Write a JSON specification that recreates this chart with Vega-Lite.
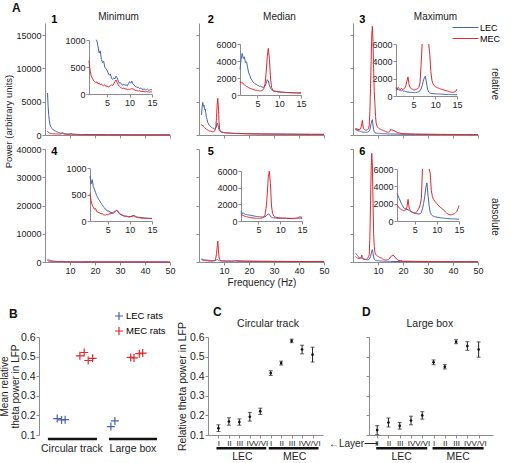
{
"$schema": "https://vega.github.io/schema/vega-lite/v6.json",
"padding": {"left": -1, "top": 2, "right": 0, "bottom": 0},
"config": {
  "font": "Liberation Sans",
  "view": {"stroke": null},
  "axis": {"grid": false, "domainColor": "#8c8c8c", "tickColor": "#8c8c8c", "labelColor": "#222", "labelFontSize": 9, "tickSize": 3, "labelPadding": 1, "labelFlush": false, "labelOverlap": false, "tickCount": 12, "titleFontWeight": "normal", "titleColor": "#222", "titleFontSize": 10, "titlePadding": 2},
  "title": {"fontSize": 10, "fontWeight": "normal", "color": "#222", "offset": 0},
  "line": {"strokeWidth": 1}
},
"datasets": {
"S": [
{"f":1,"L1":6300,"M1":620,"L2":3000,"M2":1600,"L3":850,"M3":1000,"L4":850,"M4":520,"L5":1200,"M5":900,"L6":3200,"M6":1900},
{"f":1.25,"L1":4300,"M1":430,"L2":4200,"M2":1400,"L3":700,"M3":800,"L4":700,"M4":380,"L5":900,"M5":700,"L6":2900,"M6":1700},
{"f":1.5,"L1":2900,"M1":330,"L2":4900,"M2":1500,"L3":780,"M3":1000,"L4":780,"M4":300,"L5":1000,"M5":650,"L6":2600,"M6":1500},
{"f":1.75,"L1":2100,"M1":290,"L2":4300,"M2":1300,"L3":650,"M3":850,"L4":650,"M4":260,"L5":850,"M5":600,"L6":2300,"M6":1400},
{"f":2,"L1":1600,"M1":250,"L2":4500,"M2":1200,"L3":680,"M3":700,"L4":600,"M4":220,"L5":800,"M5":550,"L6":2000,"M6":1300},
{"f":2.25,"L1":1300,"M1":230,"L2":3800,"M2":1100,"L3":600,"M3":900,"L4":540,"M4":240,"L5":780,"M5":520,"L6":1800,"M6":1250},
{"f":2.5,"L1":1150,"M1":210,"L2":3900,"M2":1000,"L3":620,"M3":750,"L4":480,"M4":180,"L5":750,"M5":480,"L6":1500,"M6":1200},
{"f":2.75,"L1":990,"M1":225,"L2":3200,"M2":950,"L3":560,"M3":800,"L4":440,"M4":170,"L5":720,"M5":450,"L6":1450,"M6":1250},
{"f":3,"L1":880,"M1":190,"L2":2600,"M2":850,"L3":550,"M3":900,"L4":400,"M4":155,"L5":700,"M5":420,"L6":1400,"M6":1300},
{"f":3.25,"L1":760,"M1":200,"L2":2300,"M2":800,"L3":500,"M3":1200,"L4":370,"M4":150,"L5":680,"M5":400,"L6":1350,"M6":1600},
{"f":3.5,"L1":800,"M1":170,"L2":1900,"M2":750,"L3":480,"M3":1700,"L4":330,"M4":135,"L5":650,"M5":380,"L6":1300,"M6":2500},
{"f":3.75,"L1":640,"M1":185,"L2":1750,"M2":700,"L3":460,"M3":2200,"L4":310,"M4":140,"L5":630,"M5":365,"L6":1200,"M6":1500},
{"f":4,"L1":580,"M1":160,"L2":1500,"M2":650,"L3":450,"M3":1300,"L4":270,"M4":120,"L5":600,"M5":350,"L6":1100,"M6":1200},
{"f":4.25,"L1":610,"M1":150,"L2":1450,"M2":600,"L3":420,"M3":950,"L4":250,"M4":115,"L5":580,"M5":340,"L6":1050,"M6":1100},
{"f":4.5,"L1":500,"M1":170,"L2":1300,"M2":580,"L3":430,"M3":850,"L4":220,"M4":110,"L5":550,"M5":330,"L6":1000,"M6":1000},
{"f":4.75,"L1":470,"M1":140,"L2":1250,"M2":550,"L3":400,"M3":780,"L4":210,"M4":125,"L5":540,"M5":325,"L6":950,"M6":950},
{"f":5,"L1":440,"M1":150,"L2":1150,"M2":520,"L3":400,"M3":720,"L4":180,"M4":120,"L5":520,"M5":320,"L6":900,"M6":900},
{"f":5.25,"L1":390,"M1":130,"L2":1100,"M2":500,"L3":380,"M3":700,"L4":195,"M4":130,"L5":510,"M5":325,"L6":870,"M6":950},
{"f":5.5,"L1":350,"M1":140,"L2":1000,"M2":480,"L3":420,"M3":760,"L4":160,"M4":135,"L5":500,"M5":330,"L6":850,"M6":1100},
{"f":5.75,"L1":370,"M1":155,"L2":1020,"M2":500,"L3":410,"M3":800,"L4":170,"M4":140,"L5":490,"M5":360,"L6":820,"M6":1300},
{"f":6,"L1":290,"M1":170,"L2":950,"M2":520,"L3":450,"M3":850,"L4":150,"M4":150,"L5":480,"M5":400,"L6":800,"M6":1500},
{"f":6.25,"L1":270,"M1":160,"L2":900,"M2":600,"L3":500,"M3":1000,"L4":140,"M4":165,"L5":490,"M5":500,"L6":850,"M6":1900},
{"f":6.5,"L1":300,"M1":190,"L2":920,"M2":800,"L3":600,"M3":1500,"L4":155,"M4":180,"L5":520,"M5":700,"L6":1000,"M6":2600},
{"f":6.75,"L1":280,"M1":230,"L2":1050,"M2":1300,"L3":800,"M3":3500,"L4":175,"M4":190,"L5":600,"M5":1500,"L6":1400,"M6":9000},
{"f":7,"L1":330,"M1":260,"L2":1350,"M2":2600,"L3":1200,"M3":7000,"L4":200,"M4":200,"L5":700,"M5":3000,"L6":2000,"M6":20000},
{"f":7.25,"L1":300,"M1":215,"L2":1800,"M2":4500,"L3":1700,"M3":11000,"L4":190,"M4":185,"L5":850,"M5":5200,"L6":2800,"M6":32000},
{"f":7.5,"L1":240,"M1":170,"L2":1650,"M2":5500,"L3":2100,"M3":15000,"L4":150,"M4":160,"L5":800,"M5":7400,"L6":3800,"M6":38500},
{"f":7.75,"L1":200,"M1":140,"L2":1150,"M2":4200,"L3":2300,"M3":16300,"L4":130,"M4":140,"L5":600,"M5":4500,"L6":4400,"M6":34000},
{"f":8,"L1":210,"M1":120,"L2":800,"M2":2000,"L3":1500,"M3":14000,"L4":120,"M4":120,"L5":450,"M5":1800,"L6":3000,"M6":22000},
{"f":8.25,"L1":175,"M1":110,"L2":620,"M2":900,"L3":800,"M3":10000,"L4":115,"M4":110,"L5":400,"M5":900,"L6":1800,"M6":10000},
{"f":8.5,"L1":165,"M1":100,"L2":520,"M2":600,"L3":450,"M3":6500,"L4":100,"M4":100,"L5":380,"M5":600,"L6":1000,"M6":5500},
{"f":8.75,"L1":180,"M1":110,"L2":470,"M2":500,"L3":350,"M3":4800,"L4":95,"M4":95,"L5":360,"M5":500,"L6":750,"M6":3500},
{"f":9,"L1":160,"M1":90,"L2":420,"M2":450,"L3":300,"M3":2800,"L4":90,"M4":90,"L5":350,"M5":450,"L6":600,"M6":2800},
{"f":9.25,"L1":170,"M1":95,"L2":440,"M2":430,"L3":290,"M3":1800,"L4":95,"M4":85,"L5":345,"M5":420,"L6":550,"M6":2500},
{"f":9.5,"L1":150,"M1":80,"L2":390,"M2":400,"L3":270,"M3":1400,"L4":85,"M4":85,"L5":340,"M5":400,"L6":500,"M6":2300},
{"f":9.75,"L1":190,"M1":85,"L2":360,"M2":380,"L3":260,"M3":1200,"L4":80,"M4":80,"L5":335,"M5":390,"L6":470,"M6":2150},
{"f":10,"L1":230,"M1":80,"L2":370,"M2":370,"L3":250,"M3":1100,"L4":80,"M4":80,"L5":330,"M5":380,"L6":450,"M6":2000},
{"f":10.25,"L1":200,"M1":90,"L2":340,"M2":350,"L3":240,"M3":1000,"L4":85,"M4":85,"L5":330,"M5":370,"L6":420,"M6":1850},
{"f":10.5,"L1":240,"M1":100,"L2":330,"M2":340,"L3":240,"M3":950,"L4":95,"M4":90,"L5":325,"M5":360,"L6":400,"M6":1700},
{"f":10.75,"L1":190,"M1":95,"L2":310,"M2":330,"L3":230,"M3":900,"L4":100,"M4":95,"L5":320,"M5":355,"L6":380,"M6":1600},
{"f":11,"L1":170,"M1":85,"L2":320,"M2":320,"L3":220,"M3":850,"L4":105,"M4":90,"L5":320,"M5":350,"L6":350,"M6":1500},
{"f":11.25,"L1":140,"M1":70,"L2":300,"M2":310,"L3":220,"M3":800,"L4":90,"M4":80,"L5":315,"M5":345,"L6":340,"M6":1400},
{"f":11.5,"L1":130,"M1":65,"L2":290,"M2":300,"L3":210,"M3":760,"L4":80,"M4":70,"L5":310,"M5":340,"L6":330,"M6":1300},
{"f":11.75,"L1":120,"M1":60,"L2":300,"M2":290,"L3":200,"M3":720,"L4":75,"M4":65,"L5":305,"M5":335,"L6":320,"M6":1150},
{"f":12,"L1":125,"M1":55,"L2":280,"M2":280,"L3":200,"M3":700,"L4":70,"M4":60,"L5":300,"M5":330,"L6":300,"M6":1000},
{"f":12.25,"L1":100,"M1":60,"L2":290,"M2":280,"L3":190,"M3":650,"L4":70,"M4":60,"L5":295,"M5":328,"L6":290,"M6":900},
{"f":12.5,"L1":110,"M1":50,"L2":270,"M2":270,"L3":190,"M3":620,"L4":65,"M4":55,"L5":290,"M5":325,"L6":280,"M6":800},
{"f":12.75,"L1":90,"M1":45,"L2":280,"M2":260,"L3":180,"M3":580,"L4":60,"M4":55,"L5":285,"M5":322,"L6":270,"M6":750},
{"f":13,"L1":85,"M1":50,"L2":260,"M2":260,"L3":180,"M3":540,"L4":60,"M4":55,"L5":280,"M5":320,"L6":250,"M6":700},
{"f":13.25,"L1":95,"M1":45,"L2":270,"M2":250,"L3":170,"M3":500,"L4":58,"M4":50,"L5":285,"M5":330,"L6":250,"M6":720},
{"f":13.5,"L1":75,"M1":40,"L2":260,"M2":250,"L3":170,"M3":460,"L4":55,"M4":50,"L5":290,"M5":340,"L6":245,"M6":750},
{"f":13.75,"L1":80,"M1":45,"L2":250,"M2":240,"L3":160,"M3":430,"L4":55,"M4":50,"L5":300,"M5":360,"L6":240,"M6":800},
{"f":14,"L1":90,"M1":40,"L2":260,"M2":240,"L3":160,"M3":420,"L4":55,"M4":48,"L5":310,"M5":400,"L6":240,"M6":850},
{"f":14.25,"L1":70,"M1":40,"L2":250,"M2":230,"L3":160,"M3":440,"L4":52,"M4":47,"L5":330,"M5":450,"L6":230,"M6":950},
{"f":14.5,"L1":75,"M1":35,"L2":240,"M2":230,"L3":150,"M3":480,"L4":50,"M4":46,"L5":350,"M5":500,"L6":220,"M6":1100},
{"f":14.75,"L1":85,"M1":40,"L2":250,"M2":230,"L3":150,"M3":560,"L4":50,"M4":45,"L5":330,"M5":480,"L6":210,"M6":1400},
{"f":15,"L1":75,"M1":40,"L2":240,"M2":220,"L3":150,"M3":800,"L4":50,"M4":45,"L5":300,"M5":450,"L6":200,"M6":1800},
{"f":16,"L1":70,"M1":38,"L2":230,"M2":210,"L3":150,"M3":720,"L4":48,"M4":42,"L5":280,"M5":380,"L6":190,"M6":2500},
{"f":18,"L1":65,"M1":35,"L2":210,"M2":190,"L3":130,"M3":320,"L4":42,"M4":38,"L5":260,"M5":320,"L6":170,"M6":600},
{"f":20,"L1":50,"M1":30,"L2":190,"M2":170,"L3":110,"M3":200,"L4":38,"M4":35,"L5":240,"M5":280,"L6":150,"M6":300},
{"f":25,"L1":42,"M1":22,"L2":165,"M2":145,"L3":95,"M3":140,"L4":32,"M4":30,"L5":210,"M5":250,"L6":130,"M6":210},
{"f":30,"L1":35,"M1":20,"L2":150,"M2":130,"L3":85,"M3":110,"L4":28,"M4":26,"L5":190,"M5":220,"L6":115,"M6":160},
{"f":35,"L1":30,"M1":17,"L2":135,"M2":115,"L3":75,"M3":95,"L4":25,"M4":24,"L5":170,"M5":200,"L6":100,"M6":140},
{"f":40,"L1":25,"M1":15,"L2":120,"M2":100,"L3":70,"M3":80,"L4":22,"M4":22,"L5":160,"M5":180,"L6":90,"M6":120},
{"f":45,"L1":22,"M1":13,"L2":105,"M2":92,"L3":65,"M3":68,"L4":20,"M4":20,"L5":150,"M5":170,"L6":80,"M6":105},
{"f":50,"L1":20,"M1":12,"L2":100,"M2":90,"L3":60,"M3":60,"L4":20,"M4":20,"L5":140,"M5":160,"L6":75,"M6":100}
],
"B": [
{"env":"Circular track","rats":"LEC rats","x":1.79,"v":0.184},
{"env":"Circular track","rats":"LEC rats","x":2.21,"v":0.177},
{"env":"Circular track","rats":"LEC rats","x":2.56,"v":0.178},
{"env":"Circular track","rats":"MEC rats","x":4.0,"v":0.504},
{"env":"Circular track","rats":"MEC rats","x":4.42,"v":0.521},
{"env":"Circular track","rats":"MEC rats","x":4.81,"v":0.48},
{"env":"Circular track","rats":"MEC rats","x":5.24,"v":0.491},
{"env":"Large box","rats":"LEC rats","x":7.02,"v":0.143},
{"env":"Large box","rats":"LEC rats","x":7.41,"v":0.172},
{"env":"Large box","rats":"MEC rats","x":8.95,"v":0.496},
{"env":"Large box","rats":"MEC rats","x":9.27,"v":0.493},
{"env":"Large box","rats":"MEC rats","x":9.79,"v":0.515},
{"env":"Large box","rats":"MEC rats","x":10.12,"v":0.518}
],
"C": [
{"cat":"LEC I","mean":0.135,"lo":0.118,"hi":0.152},
{"cat":"LEC II","mean":0.169,"lo":0.150,"hi":0.188},
{"cat":"LEC III","mean":0.166,"lo":0.150,"hi":0.182},
{"cat":"LEC IV","mean":0.193,"lo":0.171,"hi":0.215},
{"cat":"LEC V/VI","mean":0.221,"lo":0.205,"hi":0.237},
{"cat":"MEC I","mean":0.416,"lo":0.404,"hi":0.428},
{"cat":"MEC II","mean":0.467,"lo":0.457,"hi":0.477},
{"cat":"MEC III","mean":0.580,"lo":0.571,"hi":0.589},
{"cat":"MEC IV","mean":0.536,"lo":0.514,"hi":0.558},
{"cat":"MEC V/VI","mean":0.510,"lo":0.472,"hi":0.548}
],
"D": [
{"cat":"LEC I","mean":0.125,"lo":0.102,"hi":0.148},
{"cat":"LEC II","mean":0.164,"lo":0.141,"hi":0.187},
{"cat":"LEC III","mean":0.147,"lo":0.130,"hi":0.164},
{"cat":"LEC IV","mean":0.174,"lo":0.152,"hi":0.196},
{"cat":"LEC V/VI","mean":0.200,"lo":0.181,"hi":0.219},
{"cat":"MEC I","mean":0.471,"lo":0.459,"hi":0.483},
{"cat":"MEC II","mean":0.448,"lo":0.437,"hi":0.459},
{"cat":"MEC III","mean":0.576,"lo":0.566,"hi":0.586},
{"cat":"MEC IV","mean":0.554,"lo":0.532,"hi":0.576},
{"cat":"MEC V/VI","mean":0.536,"lo":0.497,"hi":0.575}
]
},
"title": {"text": "A", "anchor": "start", "frame": "group", "dx": -33, "dy": 7, "fontSize": 12, "fontWeight": "bold", "color": "#111"},
"columns": 3,
"bounds": "flush",
"spacing": {"row": 75, "column": 29},
"resolve": {"scale": {"color": "independent"}, "legend": {"color": "independent"}},
"concat": [
{"width": 125, "height": 239, "title": {"text": "Minimum", "dx": 11, "dy": 12},
 "layer": [
  {"layer": [
   {"data": {"name": "S"}, "mark": {"type": "line"}, "encoding": {
     "x": {"field": "f", "type": "quantitative", "scale": {"domain": [0, 50]}, "axis": {"orient": "bottom", "values": [10,20,30,40,50], "tickCount": 12, "labels": false, "title": null, "offset": -127}},
     "y": {"field": "L1", "type": "quantitative", "scale": {"domain": [0, 16800], "nice": false, "range": [112, 0]}, "axis": {"orient": "left", "format": "d", "values": [0,5000,10000,15000], "tickCount": 12, "title": "Power (arbitrary units)", "titleY": 98, "titleFontSize": 9.5}},
     "color": {"datum": "LEC", "type": "nominal", "scale": {"domain": ["LEC","MEC"], "range": ["#4862ae","#e2292e"]}, "legend": {"orient": "none", "legendX": 416, "legendY": 0, "title": null, "labelFontSize": 9, "symbolType": "M-3.25,0L3.25,0", "symbolSize": 64, "symbolStrokeWidth": 1.2, "rowPadding": 1, "labelOffset": 10}}}},
   {"data": {"name": "S"}, "mark": {"type": "line"}, "encoding": {
     "x": {"field": "f", "type": "quantitative", "scale": {"domain": [0, 50]}, "axis": {"orient": "bottom", "values": [10,20,30,40,50], "tickCount": 12, "labels": false, "title": null, "offset": -127}},
     "y": {"field": "M1", "type": "quantitative", "scale": {"domain": [0, 16800], "nice": false, "range": [112, 0]}, "axis": {"orient": "left", "format": "d", "values": [0,5000,10000,15000], "tickCount": 12, "title": "Power (arbitrary units)", "titleY": 98, "titleFontSize": 9.5}},
     "color": {"datum": "MEC", "type": "nominal", "scale": {"domain": ["LEC","MEC"], "range": ["#4862ae","#e2292e"]}, "legend": {"orient": "none", "legendX": 416, "legendY": 0, "title": null, "labelFontSize": 9, "symbolType": "M-3.25,0L3.25,0", "symbolSize": 64, "symbolStrokeWidth": 1.2, "rowPadding": 1, "labelOffset": 10}}}},
   {"data": {"values": [{}]}, "mark": {"type": "text", "fontWeight": "bold", "fontSize": 11, "align": "left", "baseline": "middle"}, "encoding": {"x": {"datum": 2.5, "type": "quantitative"}, "y": {"datum": 17200, "type": "quantitative"}, "text": {"value": "1"}}}
  ]},
  {"data": {"name": "S"}, "transform": [{"filter": "datum.f <= 15"}], "layer": [
   {"transform": [{"filter": "datum.f >= 2.5"}], "mark": {"type": "line", "color": "#4862ae"}, "encoding": {
     "x": {"field": "f", "type": "quantitative", "scale": {"domain": [1, 15], "range": [44, 107]}, "axis": {"orient": "bottom", "offset": -168, "values": [5,10,15], "tickCount": 12, "title": null}},
     "y": {"field": "L1", "type": "quantitative", "scale": {"domain": [0, 1000], "range": [71, 17], "nice": false, "clamp": true}, "axis": {"orient": "left", "format": "d", "offset": -44, "values": [0,500,1000], "tickCount": 12, "title": null}}}},
   {"mark": {"type": "line", "color": "#e2292e"}, "encoding": {
     "x": {"field": "f", "type": "quantitative", "scale": {"domain": [1, 15], "range": [44, 107]}, "axis": {"orient": "bottom", "offset": -168, "values": [5,10,15], "tickCount": 12, "title": null}},
     "y": {"field": "M1", "type": "quantitative", "scale": {"domain": [0, 1000], "range": [71, 17], "nice": false, "clamp": true}, "axis": {"orient": "left", "format": "d", "offset": -44, "values": [0,500,1000], "tickCount": 12, "title": null}}}}
  ]},
  {"layer": [
   {"data": {"name": "S"}, "mark": {"type": "line", "color": "#4862ae"}, "encoding": {
     "x": {"field": "f", "type": "quantitative", "scale": {"domain": [0, 50]}, "axis": {"orient": "bottom", "values": [10,20,30,40,50], "tickCount": 12, "title": null}},
     "y": {"field": "L4", "type": "quantitative", "scale": {"domain": [0, 40000], "nice": false, "range": [239, 126]}, "axis": {"orient": "left", "format": "d", "values": [0,10000,20000,30000,40000], "tickCount": 12, "title": null}}}},
   {"data": {"name": "S"}, "mark": {"type": "line", "color": "#e2292e"}, "encoding": {
     "x": {"field": "f", "type": "quantitative", "scale": {"domain": [0, 50]}, "axis": {"orient": "bottom", "values": [10,20,30,40,50], "tickCount": 12, "title": null}},
     "y": {"field": "M4", "type": "quantitative", "scale": {"domain": [0, 40000], "nice": false, "range": [239, 126]}, "axis": {"orient": "left", "format": "d", "values": [0,10000,20000,30000,40000], "tickCount": 12, "title": null}}}},
   {"data": {"values": [{}]}, "mark": {"type": "text", "fontWeight": "bold", "fontSize": 11, "align": "left", "baseline": "middle"}, "encoding": {"x": {"datum": 2.5, "type": "quantitative"}, "y": {"datum": 39100, "type": "quantitative"}, "text": {"value": "4"}}}
  ]},
  {"data": {"name": "S"}, "transform": [{"filter": "datum.f <= 15"}], "layer": [
   {"mark": {"type": "line", "color": "#4862ae"}, "encoding": {
     "x": {"field": "f", "type": "quantitative", "scale": {"domain": [1, 15], "range": [45, 107]}, "axis": {"orient": "bottom", "offset": -41, "values": [5,10,15], "tickCount": 12, "title": null}},
     "y": {"field": "L4", "type": "quantitative", "scale": {"domain": [0, 1000], "range": [198, 145], "nice": false, "clamp": true}, "axis": {"orient": "left", "format": "d", "offset": -45, "values": [0,500,1000], "tickCount": 12, "title": null}}}},
   {"mark": {"type": "line", "color": "#e2292e"}, "encoding": {
     "x": {"field": "f", "type": "quantitative", "scale": {"domain": [1, 15], "range": [45, 107]}, "axis": {"orient": "bottom", "offset": -41, "values": [5,10,15], "tickCount": 12, "title": null}},
     "y": {"field": "M4", "type": "quantitative", "scale": {"domain": [0, 1000], "range": [198, 145], "nice": false, "clamp": true}, "axis": {"orient": "left", "format": "d", "offset": -45, "values": [0,500,1000], "tickCount": 12, "title": null}}}}
  ]}
 ],
 "resolve": {"scale": {"x": "independent", "y": "independent"}}
},
{"width": 125, "height": 239, "title": {"text": "Median", "dx": 18, "dy": 12},
 "layer": [
  {"layer": [
   {"data": {"name": "S"}, "mark": {"type": "line", "color": "#4862ae"}, "encoding": {
     "x": {"field": "f", "type": "quantitative", "scale": {"domain": [0, 50]}, "axis": {"orient": "bottom", "values": [10,20,30,40,50], "tickCount": 12, "labels": false, "title": null, "offset": -127}},
     "y": {"field": "L2", "type": "quantitative", "scale": {"domain": [0, 16800], "nice": false, "range": [112, 0]}, "axis": {"orient": "left", "values": [0,5000,10000,15000], "tickCount": 12, "labels": false, "title": null}}}},
   {"data": {"name": "S"}, "mark": {"type": "line", "color": "#e2292e"}, "encoding": {
     "x": {"field": "f", "type": "quantitative", "scale": {"domain": [0, 50]}, "axis": {"orient": "bottom", "values": [10,20,30,40,50], "tickCount": 12, "labels": false, "title": null, "offset": -127}},
     "y": {"field": "M2", "type": "quantitative", "scale": {"domain": [0, 16800], "nice": false, "range": [112, 0]}, "axis": {"orient": "left", "values": [0,5000,10000,15000], "tickCount": 12, "labels": false, "title": null}}}},
   {"data": {"values": [{}]}, "mark": {"type": "text", "fontWeight": "bold", "fontSize": 11, "align": "left", "baseline": "middle"}, "encoding": {"x": {"datum": 3.5, "type": "quantitative"}, "y": {"datum": 17200, "type": "quantitative"}, "text": {"value": "2"}}}
  ]},
  {"data": {"name": "S"}, "transform": [{"filter": "datum.f <= 15"}], "layer": [
   {"mark": {"type": "line", "color": "#4862ae"}, "encoding": {
     "x": {"field": "f", "type": "quantitative", "scale": {"domain": [1, 15], "range": [41, 102]}, "axis": {"orient": "bottom", "offset": -167, "values": [5,10,15], "tickCount": 12, "title": null}},
     "y": {"field": "L2", "type": "quantitative", "scale": {"domain": [0, 6000], "range": [72, 21], "nice": false, "clamp": true}, "axis": {"orient": "left", "format": "d", "offset": -41, "values": [0,2000,4000,6000], "tickCount": 12, "title": null}}}},
   {"mark": {"type": "line", "color": "#e2292e"}, "encoding": {
     "x": {"field": "f", "type": "quantitative", "scale": {"domain": [1, 15], "range": [41, 102]}, "axis": {"orient": "bottom", "offset": -167, "values": [5,10,15], "tickCount": 12, "title": null}},
     "y": {"field": "M2", "type": "quantitative", "scale": {"domain": [0, 6000], "range": [72, 21], "nice": false, "clamp": true}, "axis": {"orient": "left", "format": "d", "offset": -41, "values": [0,2000,4000,6000], "tickCount": 12, "title": null}}}}
  ]},
  {"layer": [
   {"data": {"name": "S"}, "mark": {"type": "line", "color": "#4862ae"}, "encoding": {
     "x": {"field": "f", "type": "quantitative", "scale": {"domain": [0, 50]}, "axis": {"orient": "bottom", "values": [10,20,30,40,50], "tickCount": 12, "title": "Frequency (Hz)"}},
     "y": {"field": "L5", "type": "quantitative", "scale": {"domain": [0, 40000], "nice": false, "range": [239, 126]}, "axis": {"orient": "left", "values": [0,10000,20000,30000,40000], "tickCount": 12, "labels": false, "title": null}}}},
   {"data": {"name": "S"}, "mark": {"type": "line", "color": "#e2292e"}, "encoding": {
     "x": {"field": "f", "type": "quantitative", "scale": {"domain": [0, 50]}, "axis": {"orient": "bottom", "values": [10,20,30,40,50], "tickCount": 12, "title": "Frequency (Hz)"}},
     "y": {"field": "M5", "type": "quantitative", "scale": {"domain": [0, 40000], "nice": false, "range": [239, 126]}, "axis": {"orient": "left", "values": [0,10000,20000,30000,40000], "tickCount": 12, "labels": false, "title": null}}}},
   {"data": {"values": [{}]}, "mark": {"type": "text", "fontWeight": "bold", "fontSize": 11, "align": "left", "baseline": "middle"}, "encoding": {"x": {"datum": 3.5, "type": "quantitative"}, "y": {"datum": 39100, "type": "quantitative"}, "text": {"value": "5"}}}
  ]},
  {"data": {"name": "S"}, "transform": [{"filter": "datum.f <= 15"}], "layer": [
   {"mark": {"type": "line", "color": "#4862ae"}, "encoding": {
     "x": {"field": "f", "type": "quantitative", "scale": {"domain": [1, 15], "range": [42, 103]}, "axis": {"orient": "bottom", "offset": -41, "values": [5,10,15], "tickCount": 12, "title": null}},
     "y": {"field": "L5", "type": "quantitative", "scale": {"domain": [0, 6000], "range": [198, 148], "nice": false, "clamp": true}, "axis": {"orient": "left", "format": "d", "offset": -42, "values": [0,2000,4000,6000], "tickCount": 12, "title": null}}}},
   {"mark": {"type": "line", "color": "#e2292e"}, "encoding": {
     "x": {"field": "f", "type": "quantitative", "scale": {"domain": [1, 15], "range": [42, 103]}, "axis": {"orient": "bottom", "offset": -41, "values": [5,10,15], "tickCount": 12, "title": null}},
     "y": {"field": "M5", "type": "quantitative", "scale": {"domain": [0, 6000], "range": [198, 148], "nice": false, "clamp": true}, "axis": {"orient": "left", "format": "d", "offset": -42, "values": [0,2000,4000,6000], "tickCount": 12, "title": null}}}}
  ]}
 ],
 "resolve": {"scale": {"x": "independent", "y": "independent"}}
},
{"width": 125, "height": 239, "title": {"text": "Maximum", "dx": 20, "dy": 12},
 "layer": [
  {"layer": [
   {"data": {"name": "S"}, "mark": {"type": "line", "color": "#4862ae"}, "encoding": {
     "x": {"field": "f", "type": "quantitative", "scale": {"domain": [0, 50]}, "axis": {"orient": "bottom", "values": [10,20,30,40,50], "tickCount": 12, "labels": false, "title": null, "offset": -127}},
     "y": {"field": "L3", "type": "quantitative", "scale": {"domain": [0, 16800], "nice": false, "range": [112, 0]}, "axis": {"orient": "left", "values": [0,5000,10000,15000], "tickCount": 12, "labels": false, "title": null}}}},
   {"data": {"name": "S"}, "mark": {"type": "line", "color": "#e2292e"}, "encoding": {
     "x": {"field": "f", "type": "quantitative", "scale": {"domain": [0, 50]}, "axis": {"orient": "bottom", "values": [10,20,30,40,50], "tickCount": 12, "labels": false, "title": null, "offset": -127}},
     "y": {"field": "M3", "type": "quantitative", "scale": {"domain": [0, 16800], "nice": false, "range": [112, 0]}, "axis": {"orient": "left", "values": [0,5000,10000,15000], "tickCount": 12, "labels": false, "title": null}}}},
   {"data": {"values": [{}]}, "mark": {"type": "text", "fontWeight": "bold", "fontSize": 11, "align": "left", "baseline": "middle"}, "encoding": {"x": {"datum": 2.5, "type": "quantitative"}, "y": {"datum": 17200, "type": "quantitative"}, "text": {"value": "3"}}},
   {"data": {"values": [{}]}, "mark": {"type": "text", "fontSize": 10, "angle": 90, "align": "center", "baseline": "middle", "color": "#222"}, "encoding": {"x": {"datum": 56.6, "type": "quantitative"}, "y": {"datum": 7650, "type": "quantitative"}, "text": {"value": "relative"}}}
  ]},
  {"data": {"name": "S"}, "transform": [{"filter": "datum.f <= 15"}], "layer": [
   {"mark": {"type": "line", "color": "#4862ae"}, "encoding": {
     "x": {"field": "f", "type": "quantitative", "scale": {"domain": [1, 15], "range": [43, 104]}, "axis": {"orient": "bottom", "offset": -166, "values": [5,10,15], "tickCount": 12, "title": null}},
     "y": {"field": "L3", "type": "quantitative", "scale": {"domain": [0, 6000], "range": [73, 21], "nice": false, "clamp": true}, "axis": {"orient": "left", "format": "d", "offset": -43, "values": [0,2000,4000,6000], "tickCount": 12, "title": null}}}},
   {"transform": [{"filter": "datum.f <= 7"}], "mark": {"type": "line", "color": "#e2292e"}, "encoding": {
     "x": {"field": "f", "type": "quantitative", "scale": {"domain": [1, 15], "range": [43, 104]}, "axis": {"orient": "bottom", "offset": -166, "values": [5,10,15], "tickCount": 12, "title": null}},
     "y": {"field": "M3", "type": "quantitative", "scale": {"domain": [0, 6000], "range": [73, 21], "nice": false, "clamp": true}, "axis": {"orient": "left", "format": "d", "offset": -43, "values": [0,2000,4000,6000], "tickCount": 12, "title": null}}}},
   {"transform": [{"filter": "datum.f >= 8.5"}], "mark": {"type": "line", "color": "#e2292e"}, "encoding": {
     "x": {"field": "f", "type": "quantitative", "scale": {"domain": [1, 15], "range": [43, 104]}, "axis": {"orient": "bottom", "offset": -166, "values": [5,10,15], "tickCount": 12, "title": null}},
     "y": {"field": "M3", "type": "quantitative", "scale": {"domain": [0, 6000], "range": [73, 21], "nice": false, "clamp": true}, "axis": {"orient": "left", "format": "d", "offset": -43, "values": [0,2000,4000,6000], "tickCount": 12, "title": null}}}}
  ]},
  {"layer": [
   {"data": {"name": "S"}, "mark": {"type": "line", "color": "#4862ae"}, "encoding": {
     "x": {"field": "f", "type": "quantitative", "scale": {"domain": [0, 50]}, "axis": {"orient": "bottom", "values": [10,20,30,40,50], "tickCount": 12, "title": null}},
     "y": {"field": "L6", "type": "quantitative", "scale": {"domain": [0, 40000], "nice": false, "range": [239, 126]}, "axis": {"orient": "left", "values": [0,10000,20000,30000,40000], "tickCount": 12, "labels": false, "title": null}}}},
   {"data": {"name": "S"}, "mark": {"type": "line", "color": "#e2292e"}, "encoding": {
     "x": {"field": "f", "type": "quantitative", "scale": {"domain": [0, 50]}, "axis": {"orient": "bottom", "values": [10,20,30,40,50], "tickCount": 12, "title": null}},
     "y": {"field": "M6", "type": "quantitative", "scale": {"domain": [0, 40000], "nice": false, "range": [239, 126]}, "axis": {"orient": "left", "values": [0,10000,20000,30000,40000], "tickCount": 12, "labels": false, "title": null}}}},
   {"data": {"values": [{}]}, "mark": {"type": "text", "fontWeight": "bold", "fontSize": 11, "align": "left", "baseline": "middle"}, "encoding": {"x": {"datum": 2.5, "type": "quantitative"}, "y": {"datum": 39100, "type": "quantitative"}, "text": {"value": "6"}}},
   {"data": {"values": [{}]}, "mark": {"type": "text", "fontSize": 10, "angle": 90, "align": "center", "baseline": "middle", "color": "#222"}, "encoding": {"x": {"datum": 56.6, "type": "quantitative"}, "y": {"datum": 15930, "type": "quantitative"}, "text": {"value": "absolute"}}}
  ]},
  {"data": {"name": "S"}, "transform": [{"filter": "datum.f <= 15"}], "layer": [
   {"mark": {"type": "line", "color": "#4862ae"}, "encoding": {
     "x": {"field": "f", "type": "quantitative", "scale": {"domain": [1, 15], "range": [44, 106]}, "axis": {"orient": "bottom", "offset": -41, "values": [5,10,15], "tickCount": 12, "title": null}},
     "y": {"field": "L6", "type": "quantitative", "scale": {"domain": [0, 6000], "range": [198, 146], "nice": false, "clamp": true}, "axis": {"orient": "left", "format": "d", "offset": -44, "values": [0,2000,4000,6000], "tickCount": 12, "title": null}}}},
   {"transform": [{"filter": "datum.f <= 6.75"}], "mark": {"type": "line", "color": "#e2292e"}, "encoding": {
     "x": {"field": "f", "type": "quantitative", "scale": {"domain": [1, 15], "range": [44, 106]}, "axis": {"orient": "bottom", "offset": -41, "values": [5,10,15], "tickCount": 12, "title": null}},
     "y": {"field": "M6", "type": "quantitative", "scale": {"domain": [0, 6000], "range": [198, 146], "nice": false, "clamp": true}, "axis": {"orient": "left", "format": "d", "offset": -44, "values": [0,2000,4000,6000], "tickCount": 12, "title": null}}}},
   {"transform": [{"filter": "datum.f >= 8.25"}], "mark": {"type": "line", "color": "#e2292e"}, "encoding": {
     "x": {"field": "f", "type": "quantitative", "scale": {"domain": [1, 15], "range": [44, 106]}, "axis": {"orient": "bottom", "offset": -41, "values": [5,10,15], "tickCount": 12, "title": null}},
     "y": {"field": "M6", "type": "quantitative", "scale": {"domain": [0, 6000], "range": [198, 146], "nice": false, "clamp": true}, "axis": {"orient": "left", "format": "d", "offset": -44, "values": [0,2000,4000,6000], "tickCount": 12, "title": null}}}}
  ]}
 ],
 "resolve": {"scale": {"x": "independent", "y": "independent"}}
},
{"width": 117, "height": 98,
 "title": {"text": "B", "anchor": "start", "frame": "group", "dx": -36, "dy": 14, "fontSize": 12, "fontWeight": "bold", "color": "#111"},
 "layer": [
  {"data": {"name": "B"}, "mark": {"type": "point", "shape": "M-1,0L1,0M0,-1L0,1", "filled": false, "size": 64, "strokeWidth": 1.2, "opacity": 1},
   "encoding": {
    "x": {"field": "x", "type": "quantitative", "scale": {"domain": [0.6, 12], "nice": false, "zero": false}, "axis": null},
    "y": {"field": "v", "type": "quantitative", "scale": {"domain": [0.1, 0.6], "nice": false, "zero": false}, "axis": {"orient": "left", "values": [0.1,0.2,0.3,0.4,0.5,0.6], "tickCount": 12, "format": ".1f", "offset": 6, "labelFontSize": 10.5, "title": ["Mean relative", "theta power in LFP"], "titleFontSize": 10, "titleLineHeight": 11, "titlePadding": 0}},
    "color": {"field": "rats", "type": "nominal", "scale": {"domain": ["LEC rats","MEC rats"], "range": ["#4862ae","#e2292e"]}, "legend": {"orient": "none", "legendX": 69, "legendY": -26, "title": null, "labelFontSize": 9.5, "rowPadding": 1, "symbolStrokeWidth": 1.2, "symbolSize": 64, "labelOffset": 2}}}},
  {"data": {"values": [{}]}, "mark": {"type": "rule", "strokeWidth": 2.5, "color": "#111"}, "encoding": {"x": {"datum": 0.88, "type": "quantitative"}, "x2": {"datum": 5.66}, "y": {"datum": 0.08, "type": "quantitative"}}},
  {"data": {"values": [{}]}, "mark": {"type": "rule", "strokeWidth": 2.5, "color": "#111"}, "encoding": {"x": {"datum": 6.83, "type": "quantitative"}, "x2": {"datum": 11.51}, "y": {"datum": 0.08, "type": "quantitative"}}},
  {"data": {"values": [{}]}, "mark": {"type": "text", "fontSize": 10.5, "baseline": "middle", "color": "#222"}, "encoding": {"x": {"datum": 3.22, "type": "quantitative"}, "y": {"datum": 0.031, "type": "quantitative"}, "text": {"value": "Circular track"}}},
  {"data": {"values": [{}]}, "mark": {"type": "text", "fontSize": 10.5, "baseline": "middle", "color": "#222"}, "encoding": {"x": {"datum": 9.17, "type": "quantitative"}, "y": {"datum": 0.031, "type": "quantitative"}, "text": {"value": "Large box"}}}
 ]
},
{"width": 124, "height": 98,
 "title": {"text": "C", "anchor": "start", "frame": "group", "dx": 14, "dy": 4, "fontSize": 12, "fontWeight": "bold", "color": "#111"},
 "layer": [
  {"data": {"name": "C"}, "mark": {"type": "errorbar", "ticks": {"size": 4}, "color": "#222"},
   "encoding": {
    "x": {"field": "cat", "type": "ordinal", "scale": {"type": "point", "padding": 1.1, "range": [9, 124], "domain": ["LEC I","LEC II","LEC III","LEC IV","LEC V/VI","MEC I","MEC II","MEC III","MEC IV","MEC V/VI"]}, "axis": {"orient": "bottom", "labelExpr": "split(datum.label, ' ')[1]", "labelAngle": 0, "labelFontSize": 8, "labelColor": "#222", "title": null}},
    "y": {"field": "lo", "type": "quantitative", "scale": {"domain": [0.1, 0.6], "nice": false, "zero": false}, "axis": {"orient": "left", "values": [0.1,0.2,0.3,0.4,0.5,0.6], "tickCount": 12, "format": ".1f", "offset": -9, "labelFontSize": 10.5, "title": "Relative theta power in LFP", "titleFontSize": 10.5}},
    "y2": {"field": "hi"}}},
  {"data": {"name": "C"}, "mark": {"type": "point", "filled": true, "size": 7, "color": "#111", "opacity": 1},
   "encoding": {
    "x": {"field": "cat", "type": "ordinal", "scale": {"type": "point", "padding": 1.1, "range": [9, 124], "domain": ["LEC I","LEC II","LEC III","LEC IV","LEC V/VI","MEC I","MEC II","MEC III","MEC IV","MEC V/VI"]}, "axis": {"orient": "bottom", "labelExpr": "split(datum.label, ' ')[1]", "labelAngle": 0, "labelFontSize": 8, "labelColor": "#222", "title": null}},
    "y": {"field": "mean", "type": "quantitative", "scale": {"domain": [0.1, 0.6], "nice": false, "zero": false}, "axis": {"orient": "left", "values": [0.1,0.2,0.3,0.4,0.5,0.6], "tickCount": 12, "format": ".1f", "offset": -9, "labelFontSize": 10.5, "title": "Relative theta power in LFP", "titleFontSize": 10.5}}}},
  {"data": {"values": [{}]}, "mark": {"type": "rule", "strokeWidth": 2.5, "color": "#111", "xOffset": -2, "x2Offset": 6}, "encoding": {"x": {"datum": "LEC I", "type": "ordinal"}, "x2": {"datum": "LEC V/VI"}, "y": {"datum": 0.0327, "type": "quantitative"}}},
  {"data": {"values": [{}]}, "mark": {"type": "rule", "strokeWidth": 2.5, "color": "#111", "xOffset": -2, "x2Offset": 6}, "encoding": {"x": {"datum": "MEC I", "type": "ordinal"}, "x2": {"datum": "MEC V/VI"}, "y": {"datum": 0.0327, "type": "quantitative"}}},
  {"data": {"values": [{}]}, "mark": {"type": "text", "fontSize": 10.5, "baseline": "middle", "dx": 3, "color": "#222"}, "encoding": {"x": {"datum": "LEC III", "type": "ordinal"}, "y": {"datum": -0.0138, "type": "quantitative"}, "text": {"value": "LEC"}}},
  {"data": {"values": [{}]}, "mark": {"type": "text", "fontSize": 10.5, "baseline": "middle", "dx": 3, "color": "#222"}, "encoding": {"x": {"datum": "MEC III", "type": "ordinal"}, "y": {"datum": -0.0138, "type": "quantitative"}, "text": {"value": "MEC"}}},
  {"data": {"values": [{}]}, "mark": {"type": "text", "fontSize": 10.5, "baseline": "middle", "dx": -2.7, "color": "#222"}, "encoding": {"x": {"datum": "MEC I", "type": "ordinal"}, "y": {"datum": 0.666, "type": "quantitative"}, "text": {"value": "Circular track"}}}
 ]
},
{"width": 140, "height": 98,
 "title": {"text": "D", "anchor": "start", "frame": "group", "dx": 9, "dy": 4, "fontSize": 12, "fontWeight": "bold", "color": "#111"},
 "layer": [
  {"data": {"name": "D"}, "mark": {"type": "errorbar", "ticks": {"size": 4}, "color": "#222"},
   "encoding": {
    "x": {"field": "cat", "type": "ordinal", "scale": {"type": "point", "padding": 1.58, "align": 0.363, "range": [16, 140], "domain": ["LEC I","LEC II","LEC III","LEC IV","LEC V/VI","MEC I","MEC II","MEC III","MEC IV","MEC V/VI"]}, "axis": {"orient": "bottom", "labelExpr": "split(datum.label, ' ')[1]", "labelAngle": 0, "labelFontSize": 8, "labelColor": "#222", "title": "←Layer⟶", "titleX": 0, "titleY": 8, "titleAlign": "center", "titleBaseline": "middle", "titleAngle": 0}},
    "y": {"field": "lo", "type": "quantitative", "scale": {"domain": [0.1, 0.6], "nice": false, "zero": false}, "axis": {"orient": "left", "values": [0.1,0.2,0.3,0.4,0.5,0.6], "tickCount": 12, "labels": false, "offset": -16, "title": null}},
    "y2": {"field": "hi"}}},
  {"data": {"name": "D"}, "mark": {"type": "point", "filled": true, "size": 7, "color": "#111", "opacity": 1},
   "encoding": {
    "x": {"field": "cat", "type": "ordinal", "scale": {"type": "point", "padding": 1.58, "align": 0.363, "range": [16, 140], "domain": ["LEC I","LEC II","LEC III","LEC IV","LEC V/VI","MEC I","MEC II","MEC III","MEC IV","MEC V/VI"]}, "axis": {"orient": "bottom", "labelExpr": "split(datum.label, ' ')[1]", "labelAngle": 0, "labelFontSize": 8, "labelColor": "#222", "title": "←Layer⟶", "titleX": 0, "titleY": 8, "titleAlign": "center", "titleBaseline": "middle", "titleAngle": 0}},
    "y": {"field": "mean", "type": "quantitative", "scale": {"domain": [0.1, 0.6], "nice": false, "zero": false}, "axis": {"orient": "left", "values": [0.1,0.2,0.3,0.4,0.5,0.6], "tickCount": 12, "labels": false, "offset": -16, "title": null}}}},
  {"data": {"values": [{}]}, "mark": {"type": "rule", "strokeWidth": 2.5, "color": "#111", "xOffset": -1, "x2Offset": 5}, "encoding": {"x": {"datum": "LEC I", "type": "ordinal"}, "x2": {"datum": "LEC V/VI"}, "y": {"datum": 0.0327, "type": "quantitative"}}},
  {"data": {"values": [{}]}, "mark": {"type": "rule", "strokeWidth": 2.5, "color": "#111", "xOffset": -1, "x2Offset": 5}, "encoding": {"x": {"datum": "MEC I", "type": "ordinal"}, "x2": {"datum": "MEC V/VI"}, "y": {"datum": 0.0327, "type": "quantitative"}}},
  {"data": {"values": [{}]}, "mark": {"type": "text", "fontSize": 10.5, "baseline": "middle", "dx": 2, "color": "#222"}, "encoding": {"x": {"datum": "LEC III", "type": "ordinal"}, "y": {"datum": -0.0138, "type": "quantitative"}, "text": {"value": "LEC"}}},
  {"data": {"values": [{}]}, "mark": {"type": "text", "fontSize": 10.5, "baseline": "middle", "dx": 2, "color": "#222"}, "encoding": {"x": {"datum": "MEC III", "type": "ordinal"}, "y": {"datum": -0.0138, "type": "quantitative"}, "text": {"value": "MEC"}}},
  {"data": {"values": [{}]}, "mark": {"type": "text", "fontSize": 10.5, "baseline": "middle", "dx": -3.7, "color": "#222"}, "encoding": {"x": {"datum": "MEC I", "type": "ordinal"}, "y": {"datum": 0.666, "type": "quantitative"}, "text": {"value": "Large box"}}}
 ]
}
]
}
